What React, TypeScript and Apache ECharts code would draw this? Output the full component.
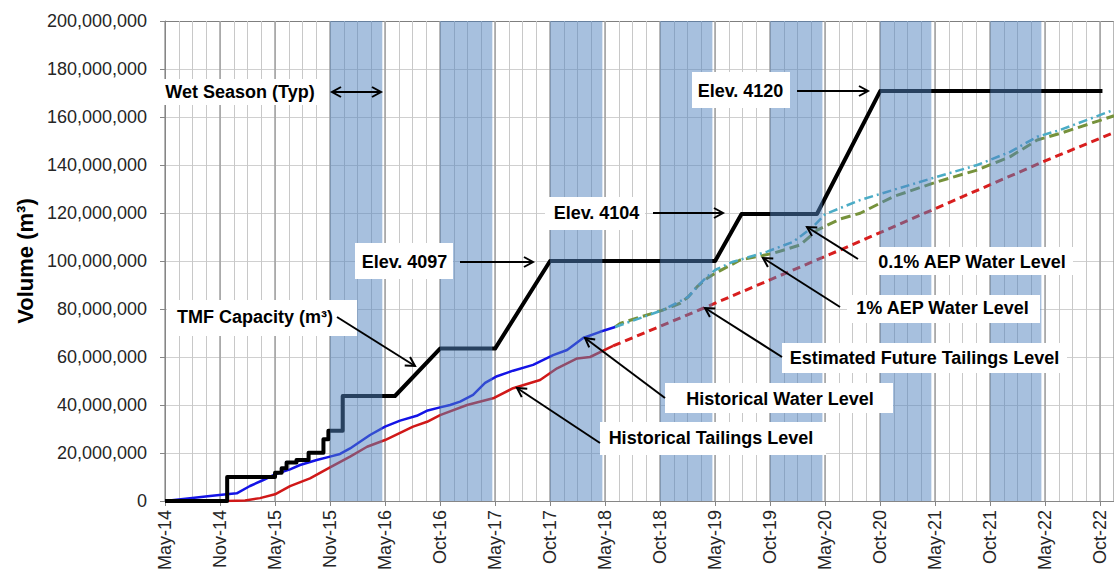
import React, { useEffect, useRef } from 'react';
import * as echarts from 'echarts';

// X positions are expressed in axis-label units (0 = May-14, 1 = Nov-14, ... 17 = Oct-22)
const X_LABELS = ['May-14', 'Nov-14', 'May-15', 'Nov-15', 'May-16', 'Oct-16', 'May-17', 'Oct-17', 'May-18', 'Oct-18', 'May-19', 'Oct-19', 'May-20', 'Oct-20', 'May-21', 'Oct-21', 'May-22', 'Oct-22'];

// Volumes in millions of m³
const TMF_CAPACITY: [number, number][] = [
  [0, 0], [1.13, 0], [1.13, 10], [2.0, 10], [2.0, 11.8], [2.12, 11.8], [2.12, 13.6], [2.21, 13.6], [2.21, 16],
  [2.39, 16], [2.39, 17.1], [2.61, 17.1], [2.61, 20.1], [2.88, 20.1], [2.88, 25.7], [2.97, 25.7], [2.97, 29.3],
  [3.23, 29.3], [3.23, 43.75], [4.18, 43.75], [5.0, 63.5], [6.0, 63.5], [7.0, 100], [10.0, 100], [10.48, 119.6],
  [11.85, 119.6], [13.0, 170.8], [17.04, 170.8],
];

const HIST_WATER: [number, number][] = [
  [0, 0], [0.455, 1.1], [0.818, 2.1], [1.121, 2.8], [1.304, 3.2], [1.545, 6.25], [1.787, 8.75], [2.0, 11.1],
  [2.273, 13.2], [2.455, 15], [2.758, 17.1], [3.0, 18.5], [3.182, 19.6], [3.364, 21.9], [3.545, 24.7], [3.727, 27.5],
  [4.0, 31], [4.273, 33.5], [4.576, 35.5], [4.758, 37.6], [5.0, 39], [5.182, 40], [5.364, 41.4], [5.6, 44.2],
  [5.818, 49.2], [6.036, 52], [6.327, 54.3], [6.691, 56.7], [7.055, 60.8], [7.309, 62.9], [7.6, 67.9], [7.909, 70.5],
  [8.182, 72.5],
];

const HIST_TAILINGS: [number, number][] = [
  [1.145, 0], [1.455, 0.2], [1.727, 1.2], [2.0, 2.8], [2.273, 6.2], [2.636, 9.4], [3.0, 14], [3.364, 18.5],
  [3.673, 22.6], [4.0, 25.4], [4.509, 31], [4.764, 33], [5.0, 35.8], [5.491, 40], [5.964, 42.8], [6.327, 47],
  [6.818, 50.4], [7.127, 55.3], [7.491, 59.4], [7.727, 60], [8.145, 64.6],
];

const FUTURE_TAILINGS: [number, number][] = [
  [8.145, 64.6], [9.855, 81], [12.273, 104.6], [15.964, 141.4], [17.25, 153.5],
];

const AEP_1PCT: [number, number][] = [
  [8.182, 72.5], [8.273, 74], [9.055, 79.6], [9.364, 82.4], [9.509, 85], [9.673, 89.3], [9.855, 92.8], [10.0, 94.9],
  [10.455, 100.4], [11.055, 103.2], [11.545, 106.7], [11.855, 112.9], [12.273, 117.5], [12.636, 119.9],
  [13.236, 126.8], [14.036, 133], [14.764, 137.9], [15.364, 143.5], [15.855, 150.4], [16.273, 153.2], [17.25, 160.5],
];

const AEP_01PCT: [number, number][] = [
  [8.182, 72.5], [9.055, 79.6], [9.509, 85], [9.673, 89.3], [9.855, 93.5], [10.0, 96.25], [10.327, 99.7],
  [10.945, 103.9], [11.418, 108], [11.782, 114.3], [12.0, 119.5], [12.636, 125.4], [13.236, 129.6], [14.036, 135.1],
  [14.764, 140], [15.364, 145.5], [15.855, 151.8], [16.273, 154.6], [17.25, 163],
];

// Wet seasons [start, end] in axis-label units
const WET_SEASONS: [number, number][] = [[3, 3.95], [5, 5.95], [7, 7.95], [9, 9.95], [11, 11.95], [13, 13.93], [15, 15.93]];

const Y_MAX = 200;
const Y_STEP = 20;
const X_MAX = 17.25;

// Annotation callouts (pixel layout)
type Ann = { text: string; box: number[]; tx: number; ty: number; from: number[]; to: number[]; double?: boolean };
const ANNOTATIONS: Ann[] = [
  { text: 'Wet Season (Typ)', box: [158, 79, 166, 26], tx: 240, ty: 92, from: [332, 92], to: [381, 92], double: true },
  { text: 'Elev. 4120', box: [692, 72, 98, 36], tx: 740.5, ty: 91, from: [797, 91], to: [868, 91] },
  { text: 'Elev. 4104', box: [545, 197, 100, 33], tx: 596.5, ty: 213, from: [653, 213], to: [723, 213] },
  { text: 'Elev. 4097', box: [355, 243, 98, 36], tx: 404.5, ty: 262, from: [460, 262], to: [533, 262] },
  { text: 'TMF Capacity (m³)', box: [167, 300, 190, 36], tx: 255, ty: 317, from: [337, 317], to: [415, 366] },
  { text: '0.1% AEP Water Level', box: [867, 247, 206, 28], tx: 972, ty: 262, from: [858, 259], to: [807, 227] },
  { text: '1% AEP Water Level', box: [847, 295, 193, 28], tx: 942.5, ty: 308, from: [840, 307], to: [763, 258] },
  { text: 'Estimated Future Tailings Level', box: [782, 343, 285, 30], tx: 924.5, ty: 358, from: [782, 357], to: [705, 308] },
  { text: 'Historical Water Level', box: [665, 383, 228, 30], tx: 780, ty: 399, from: [665, 398], to: [585, 338] },
  { text: 'Historical Tailings Level', box: [600, 422, 226, 33], tx: 711, ty: 438, from: [600, 443], to: [517, 388] },
];

const FONT = 'Arial, "Liberation Sans", Helvetica, sans-serif';

function chevron(tip: number[], tail: number[]) {
  const dx = tip[0] - tail[0];
  const dy = tip[1] - tail[1];
  const len = Math.sqrt(dx * dx + dy * dy) || 1;
  const ux = dx / len, uy = dy / len;
  const nx = -uy, ny = ux;
  const L = 9, W = 5;
  return [
    [tip[0] - L * ux + W * nx, tip[1] - L * uy + W * ny],
    [tip[0], tip[1]],
    [tip[0] - L * ux - W * nx, tip[1] - L * uy - W * ny],
  ];
}

function buildGraphics() {
  const els: any[] = [];
  ANNOTATIONS.forEach((a) => {
    els.push({ type: 'rect', z: 100, silent: true, shape: { x: a.box[0], y: a.box[1], width: a.box[2], height: a.box[3] }, style: { fill: '#ffffff' } });
    els.push({
      type: 'text', z: 101, silent: true,
      style: { text: a.text, x: a.tx, y: a.ty, fill: '#000', fontSize: 18, fontWeight: 'bold', fontFamily: FONT, align: 'center', verticalAlign: 'middle' },
    });
    els.push({ type: 'line', z: 101, silent: true, shape: { x1: a.from[0], y1: a.from[1], x2: a.to[0], y2: a.to[1] }, style: { stroke: '#000', lineWidth: 2 } });
    els.push({ type: 'polyline', z: 101, silent: true, shape: { points: chevron(a.to, a.from) }, style: { stroke: '#000', lineWidth: 2, fill: null } });
    if (a.double) {
      els.push({ type: 'polyline', z: 101, silent: true, shape: { points: chevron(a.from, a.to) }, style: { stroke: '#000', lineWidth: 2, fill: null } });
    }
  });
  return els;
}

export default function App() {
  const ref = useRef<HTMLDivElement>(null);
  useEffect(() => {
    if (!ref.current) return;
    const chart = echarts.init(ref.current, undefined, { renderer: 'svg' });
    const splitColors: string[] = [];
    for (let v = 0; v <= Y_MAX; v += Y_STEP) splitColors.push(v === Y_MAX ? '#7f7f7f' : '#d0d0d0');

    const lineSeries = (name: string, data: [number, number][], color: string, width: number, type: any, z: number) => ({
      name, type: 'line', data, xAxisIndex: 1, yAxisIndex: 0, symbol: 'none', z, silent: true,
      lineStyle: { color, width, type, cap: 'butt', join: 'round' },
    });

    chart.setOption({
      animation: false,
      backgroundColor: '#ffffff',
      grid: { left: 165, right: 0, top: 21, bottom: 73, containLabel: false, outerBoundsMode: 'none' },
      xAxis: [
        {
          type: 'value', min: 0, max: X_MAX, interval: 0.25, position: 'bottom',
          axisLabel: { show: false }, axisTick: { show: false }, axisLine: { show: false },
          splitLine: { show: true, lineStyle: { color: '#c8c8c8', width: 1 } },
        },
        {
          type: 'value', min: 0, max: X_MAX, interval: 1, position: 'bottom',
          axisLine: { show: true, lineStyle: { color: '#868686', width: 1 } },
          axisTick: { show: true, length: 5, lineStyle: { color: '#868686' } },
          splitLine: { show: true, lineStyle: { color: '#a0a0a0', width: 1.5 } },
          axisLabel: {
            rotate: 90, margin: 9, fontSize: 18, fontFamily: FONT, color: '#262626',
            formatter: (v: number) => (Number.isInteger(v) && v < X_LABELS.length ? X_LABELS[v] : ''),
          },
        },
      ],
      yAxis: {
        type: 'value', min: 0, max: Y_MAX, interval: Y_STEP,
        name: 'Volume (m³)', nameLocation: 'middle', nameRotate: 90, nameGap: 128,
        nameTextStyle: { fontSize: 22, fontWeight: 'bold', fontFamily: FONT, color: '#000' },
        axisLine: { show: true, lineStyle: { color: '#868686' } },
        axisTick: { show: true, length: 5, lineStyle: { color: '#868686' } },
        splitLine: { show: true, lineStyle: { color: splitColors, width: 1 } },
        axisLabel: {
          margin: 18, fontSize: 18, fontFamily: FONT, color: '#262626',
          formatter: (v: number) => (v * 1e6).toLocaleString('en-US'),
        },
      },
      series: [
        lineSeries('Estimated Future Tailings Level', FUTURE_TAILINGS, '#d81e1e', 3, [8, 5], 2),
        lineSeries('1% AEP Water Level', AEP_1PCT, '#76923c', 3, [10, 5], 2),
        lineSeries('0.1% AEP Water Level', AEP_01PCT, '#4bacc6', 2.5, [9, 4, 2, 4], 2),
        lineSeries('Historical Tailings Level', HIST_TAILINGS, '#d01818', 2.5, 'solid', 2),
        lineSeries('Historical Water Level', HIST_WATER, '#1414e6', 2.5, 'solid', 2),
        lineSeries('TMF Capacity (m³)', TMF_CAPACITY, '#000000', 4, 'solid', 3),
        {
          name: 'Wet Season', type: 'custom', xAxisIndex: 1, yAxisIndex: 0, z: 5, silent: true,
          data: WET_SEASONS.map(([s, e]) => [s, e, 0, Y_MAX]),
          encode: { x: [0, 1], y: [2, 3] },
          renderItem: (params: any, api: any) => {
            const p0 = api.coord([api.value(0), api.value(3)]);
            const p1 = api.coord([api.value(1), api.value(2)]);
            return {
              type: 'rect',
              shape: { x: p0[0], y: p0[1], width: p1[0] - p0[0], height: p1[1] - p0[1] },
              style: { fill: 'rgba(79,129,189,0.5)' },
            };
          },
        },
      ],
      graphic: buildGraphics(),
    });
    return () => chart.dispose();
  }, []);
  return <div ref={ref} style={{ position: 'fixed', left: 0, top: 0, width: 1114, height: 574, background: '#fff' }} />;
}
